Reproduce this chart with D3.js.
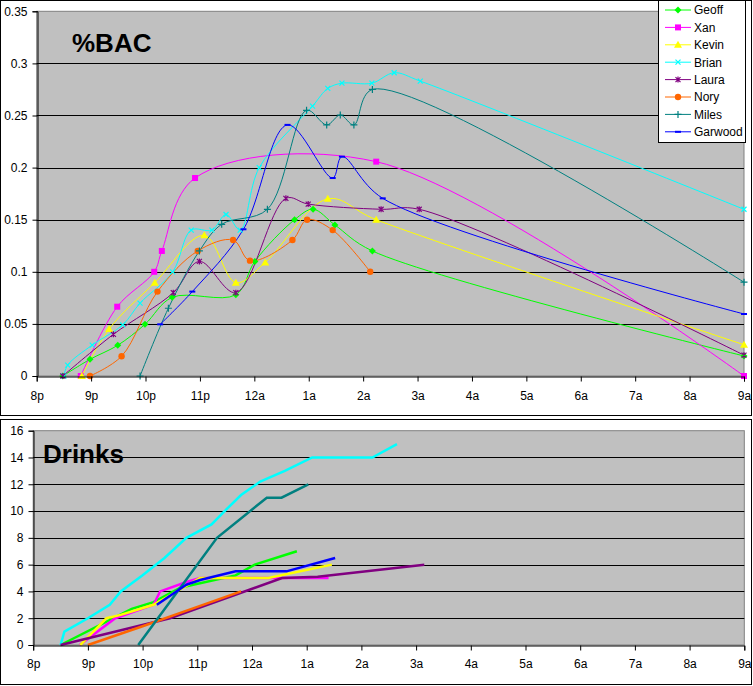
<!DOCTYPE html>
<html><head><meta charset="utf-8">
<script src="https://cdn.jsdelivr.net/npm/d3@7"></script>
<style>body{margin:0;background:#fff}svg{display:block;font-family:"Liberation Sans",Arial,sans-serif}</style>
</head><body><svg id="c" width="753" height="686"></svg>
<script>
// ---- data (hours after 8pm, value) ----
const names = ["Geoff","Xan","Kevin","Brian","Laura","Nory","Miles","Garwood"];
const hourLabels = ["8p","9p","10p","11p","12a","1a","2a","3a","4a","5a","6a","7a","8a","9a"];
const bacTickValues = [0,0.05,0.1,0.15,0.2,0.25,0.3,0.35];
const bacTickLabels = ["0","0.05","0.1","0.15","0.2","0.25","0.3","0.35"];
const drinkTickValues = [0,2,4,6,8,10,12,14,16];

const bacGeoff = [[0.48,0],[0.98,0.016],[1.49,0.0295],[1.99,0.0496],[2.49,0.0755],[3.66,0.078],[4.01,0.11],[4.74,0.15],[5.08,0.16],[5.48,0.145],[6.17,0.12],[13,0.0192]];
const bacXan = [[0.81,0],[1.48,0.0665],[2.16,0.1],[2.3,0.12],[2.91,0.19],[6.24,0.2057],[13,0]];
const bacKevin = [[0.83,0],[1.33,0.045],[2.17,0.0896],[3.08,0.135],[3.66,0.0896],[4.2,0.109],[5.35,0.17],[6.24,0.15],[13,0.03]];
const bacBrian = [[0.5,0],[0.57,0.0105],[1.02,0.0297],[1.58,0.049],[1.9,0.07],[2.5,0.1],[2.84,0.14],[3.22,0.14],[3.48,0.155],[3.74,0.14],[4.09,0.2],[5.07,0.259],[5.35,0.276],[5.61,0.281],[6.16,0.281],[6.57,0.291],[7.05,0.283],[13,0.16]];
const bacLaura = [[0.48,0],[1.41,0.04],[2.51,0.08],[2.99,0.11],[3.66,0.08],[4.58,0.1705],[4.99,0.165],[6.33,0.16],[7.03,0.16],[13,0.02]];
const bacNory = [[0.98,0],[1.56,0.019],[2.22,0.081],[2.96,0.12],[3.61,0.1305],[3.92,0.1107],[4.7,0.1305],[4.97,0.15],[5.44,0.14],[6.13,0.1]];
const bacMiles = [[1.9,0],[2.42,0.065],[2.99,0.12],[3.4,0.1456],[4.24,0.16],[4.96,0.255],[5.33,0.241],[5.58,0.2505],[5.83,0.241],[6.17,0.275],[13,0.09]];
const bacGarwood = [[2.27,0.0496],[2.86,0.081],[3.8,0.1408],[4.61,0.241],[5.44,0.19],[5.61,0.2105],[6.36,0.1705],[13,0.0595]];

const drGeoff = [[0.5,0],[1.8,2.7],[2.2,3.2],[2.7,4.3],[3.7,5.2],[4.05,6],[4.82,7]];
const drXan = [[0.85,0],[1.5,2],[2.2,3],[2.32,4],[2.8,4.7],[3.05,5],[5.4,5]];
const drKevin = [[0.86,0],[1.34,2],[1.6,2.25],[2.2,3],[3.05,5],[4.3,5],[5.46,6]];
const drBrian = [[0.5,0],[0.57,1],[1.0,2],[1.4,3],[1.6,4],[2.0,5.2],[2.4,6.5],[2.8,8],[3.26,9],[3.5,10],[3.8,11.2],[4.15,12.2],[4.6,13],[5.1,14],[6.2,14],[6.65,15]];
const drLaura = [[0.5,0],[2.5,2],[4.55,5],[5.2,5.1],[7.15,6]];
const drNory = [[1.0,0],[2.0,1.4],[3.0,2.85],[3.8,4]];
const drMiles = [[1.92,0],[3.36,8],[4.27,11],[4.54,11],[5.03,12]];
const drGarwood = [[2.26,3],[2.8,4.5],[3.05,4.85],[3.7,5.5],[4.63,5.5],[5.52,6.5]];

const bacSeries = [bacGeoff,bacXan,bacKevin,bacBrian,bacLaura,bacNory,bacMiles,bacGarwood];
const drinkSeries = [drGeoff,drXan,drKevin,drBrian,drLaura,drNory,drMiles,drGarwood];
const colors = ["#00FF00","#FF00FF","#FFFF00","#00FFFF","#800080","#FF6600","#008080","#0000FF"];
const shapes = ["diamond","square","triangle","x","asterisk","circle","plus","dash"];

const svg = d3.select("#c");

// frames
svg.append("rect").attr("x",0.5).attr("y",0.5).attr("width",751).attr("height",415).attr("fill","#fff").attr("stroke","#000");
svg.append("rect").attr("x",0.5).attr("y",419.5).attr("width",751).attr("height",265).attr("fill","#fff").attr("stroke","#000");

function marker(g, shape, color, x, y){
  const s = g.append("g").attr("transform",`translate(${x},${y})`);
  switch(shape){
    case "diamond": s.append("path").attr("d","M0,-3.5L3.5,0L0,3.5L-3.5,0Z").attr("fill",color); break;
    case "square": s.append("rect").attr("x",-3).attr("y",-3).attr("width",6).attr("height",6).attr("fill",color); break;
    case "triangle": s.append("path").attr("d","M0,-4L4,3L-4,3Z").attr("fill",color); break;
    case "x": s.append("path").attr("d","M-2.5,-2.5L2.5,2.5M-2.5,2.5L2.5,-2.5").attr("stroke",color).attr("stroke-width",1.2); break;
    case "asterisk": s.append("path").attr("d","M-2.5,-2.5L2.5,2.5M-2.5,2.5L2.5,-2.5M0,-3V3").attr("stroke",color).attr("stroke-width",1.2); break;
    case "circle": s.append("circle").attr("r",3.2).attr("fill",color); break;
    case "plus": s.append("path").attr("d","M-3.5,0H3.5M0,-3.5V3.5").attr("stroke",color).attr("stroke-width",1.2); break;
    case "dash": s.append("rect").attr("x",-3).attr("y",-1).attr("width",6).attr("height",2).attr("fill",color); break;
  }
}

function panel(opts){
  const {x, y, ticks, tickLabels, series, markers, title, titleX, titleY, lineWidth, curve, xLabelPad} = opts;
  const g = svg.append("g");
  const [x0,x1] = x.range(), [y0,y1] = y.range();
  g.append("rect").attr("x",x0).attr("y",y1).attr("width",x1-x0).attr("height",y0-y1).attr("fill","#C0C0C0").attr("stroke","#808080");
  g.selectAll(".grid").data(ticks.slice(1,-1)).join("line")
    .attr("x1",x0).attr("x2",x1).attr("y1",d=>Math.round(y(d))+0.5).attr("y2",d=>Math.round(y(d))+0.5)
    .attr("stroke","#000").attr("stroke-width",1);
  g.append("text").attr("x",titleX).attr("y",titleY).attr("font-size",26).attr("font-weight","bold").attr("fill","#000").text(title);
  const line = d3.line().x(d=>x(d[0])).y(d=>y(d[1])).curve(curve);
  series.forEach((s,i)=>{
    g.append("path").attr("d",line(s)).attr("fill","none").attr("stroke",colors[i]).attr("stroke-width",lineWidth);
  });
  if (markers) series.forEach((s,i)=>{ s.forEach(p=>marker(g,shapes[i],colors[i],x(p[0]),y(p[1]))); });
  const ya = g.append("g").attr("transform",`translate(${Math.round(x0)+0.5},0)`)
    .call(d3.axisLeft(y).tickValues(ticks).tickSize(5).tickPadding(5).tickFormat((d,i)=>tickLabels ? tickLabels[i] : d));
  const xa = g.append("g").attr("transform",`translate(0,${Math.round(y0)+0.5})`)
    .call(d3.axisBottom(x).tickValues(d3.range(hourLabels.length)).tickSize(5).tickPadding(xLabelPad).tickFormat((d,i)=>hourLabels[i]));
  [ya,xa].forEach(a=>{
    a.selectAll("text").attr("font-size",12).attr("font-family","'Liberation Sans',Arial,sans-serif").attr("fill","#000");
    a.select(".domain").attr("stroke","#000");
    a.selectAll("line").attr("stroke","#000");
  });
}

const xTop = d3.scaleLinear().domain([0,13]).range([36.7,744]);
const yTop = d3.scaleLinear().domain([0,0.35]).range([376,11.3]);
panel({x:xTop, y:yTop, ticks:bacTickValues, tickLabels:bacTickLabels, series:bacSeries, markers:true,
  title:"%BAC", titleX:72, titleY:52, lineWidth:1, curve:d3.curveCatmullRom.alpha(0.5), xLabelPad:10});

const xBot = d3.scaleLinear().domain([0,13]).range([33.2,744.3]);
const yBot = d3.scaleLinear().domain([0,16]).range([645,430.7]);
panel({x:xBot, y:yBot, ticks:drinkTickValues, tickLabels:null, series:drinkSeries, markers:false,
  title:"Drinks", titleX:43, titleY:463, lineWidth:2.5, curve:d3.curveLinear, xLabelPad:9});

// legend
const lg = svg.append("g");
lg.append("rect").attr("x",658.5).attr("y",0.5).attr("width",87).attr("height",142).attr("fill","#fff").attr("stroke","#000");
names.forEach((n,i)=>{
  const cy = 10 + i*17.4;
  lg.append("line").attr("x1",665).attr("x2",691).attr("y1",cy).attr("y2",cy).attr("stroke",colors[i]).attr("stroke-width",1);
  marker(lg, shapes[i], colors[i], 678, cy);
  lg.append("text").attr("x",694).attr("y",cy+4.3).attr("font-size",12).attr("fill","#000").text(n);
});
</script></body></html>
